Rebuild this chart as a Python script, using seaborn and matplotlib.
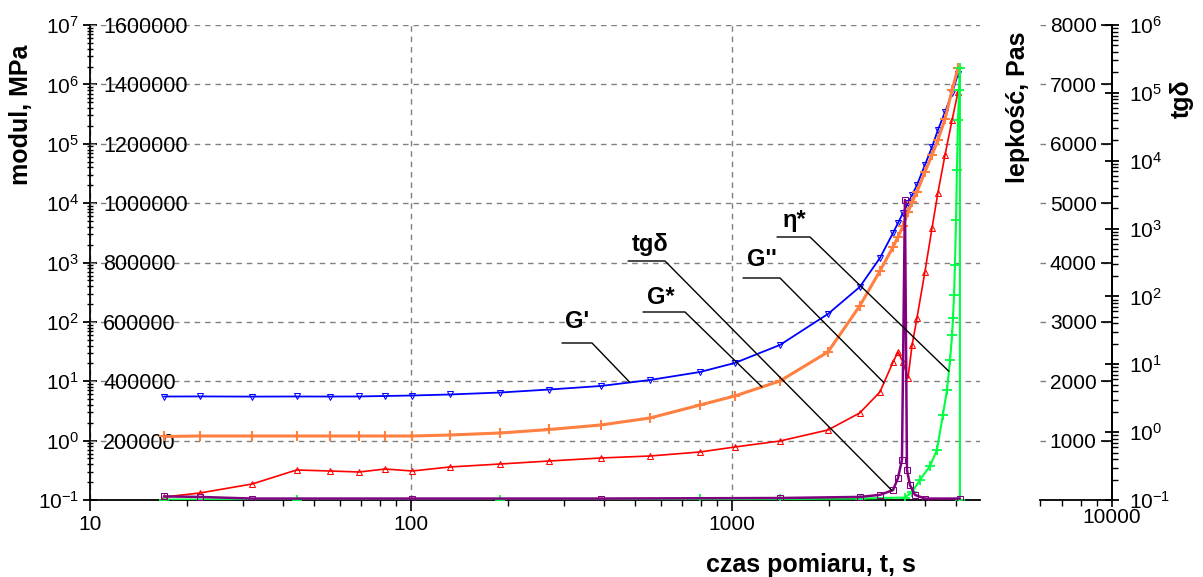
import matplotlib
matplotlib.use("Agg")
import matplotlib.pyplot as plt
from matplotlib import ticker
from matplotlib.lines import Line2D
from matplotlib.transforms import IdentityTransform
import numpy as np
import seaborn as sns

# --- dane pomiarowe -------------------------------------------------------
# czas pomiaru [s] dla modułów G', G*, G''
czas = [17, 22, 32, 44, 56, 69, 83, 101, 132, 190,
        270, 390, 555, 795, 1020, 1410, 1990, 2500, 2890, 3175,
        3290, 3410, 3535, 3640, 3770, 3990, 4200, 4380, 4610, 4850,
        5060]
g_prim = [348600, 348900, 348300, 348700, 348500, 348800, 350300, 352000, 355400, 362100,
          372200, 384000, 404200, 431200, 461500, 522100, 626500, 717500, 815200, 899400,
          933000, 966700, 1000400, 1027400, 1061000, 1128400, 1189000, 1246300, 1307000, 1371000,
          1435000]
g_star = [213900, 215600, 215600, 215600, 215600, 215600, 215600, 215600, 218900, 225700,
          237500, 252600, 276200, 320000, 350300, 400800, 498500, 653500, 771400, 852200,
          885900, 922900, 970100, 1003800, 1037500, 1104800, 1162100, 1212600, 1283400, 1381000,
          1455100]
g_bis = [10100, 23600, 53900, 101100, 97700, 94300, 104400, 97700, 111200, 121300,
         131400, 141500, 148200, 161700, 178500, 198700, 235800, 293100, 363800, 464800,
         498500, 464800, 410900, 522100, 613000, 768000, 916200, 1034100, 1162100, 1280000,
         1374300]

# lepkość zespolona eta* [Pas]
czas_eta = [17, 44, 190, 795, 1410, 2500, 3460, 3640, 3850, 4140, 4350, 4540,
            4675, 4780, 4850, 4880, 4920, 4950, 4990, 5020, 5060, 5100, 5130, 5130]
eta = [8, 8, 8, 12, 17, 25, 42, 135, 337, 573, 842, 1432,
       1853, 2358, 2779, 3065, 3453, 3958, 4716, 5558, 6400, 6905, 7276, 0]

# tangens kąta stratności
czas_tg = [17, 22, 32, 101, 390, 1410, 2500, 2890, 3175, 3290, 3385, 3458,
           3509, 3585, 3717, 3990, 5130]
tg_delta = [0.113, 0.111, 0.105, 0.105, 0.105, 0.107, 0.111, 0.119, 0.140, 0.211, 0.389, 2636,
            0.277, 0.166, 0.119, 0.105, 0.105]

# podziałki osi
czas_ticks = [10, 100, 1000]
modul_ticks = [200000, 400000, 600000, 800000, 1000000, 1200000, 1400000, 1600000]
lepkosc_ticks = [1000, 2000, 3000, 4000, 5000, 6000, 7000, 8000]

# --- wygląd ---------------------------------------------------------------
sns.set_theme(style="ticks")
plt.rcParams["font.family"] = ["Liberation Sans", "DejaVu Sans"]
plt.rcParams["mathtext.fontset"] = "custom"
plt.rcParams["mathtext.rm"] = "Liberation Sans"
plt.rcParams["mathtext.it"] = "Liberation Sans:italic"
plt.rcParams["mathtext.bf"] = "Liberation Sans:bold"
plt.rcParams["axes.unicode_minus"] = False
for k in ("text.color", "axes.labelcolor", "xtick.color", "ytick.color", "axes.edgecolor"):
    plt.rcParams[k] = "black"

W, H = 1203, 577
fig = plt.figure(figsize=(W / 100, H / 100), dpi=100)


def frame(x0, x1, y0, y1):
    return [x0 / W, 1 - y1 / H, (x1 - x0) / W, (y1 - y0) / H]


GRID = dict(color="#808080", linestyle=(0, (4, 3.5)), linewidth=1.0)
TICK_FS = 15
LAB_FS = 18
SUBS = np.arange(2, 10)

# --- główny panel: oś logarytmiczna modułu ---------------------------------
ax_log = fig.add_axes(frame(90, 980, 25, 500))
ax_log.set_xscale("log")
ax_log.set_yscale("log")
ax_log.set_xlim(10, 5925)
ax_log.set_ylim(0.1, 1e7)
for s in ("top", "right"):
    ax_log.spines[s].set_visible(False)
for s in ("left", "bottom"):
    ax_log.spines[s].set_linewidth(1.3)
ax_log.set_xticks(czas_ticks, labels=[str(v) for v in czas_ticks])
ax_log.xaxis.set_minor_locator(ticker.LogLocator(base=10, subs=SUBS))
ax_log.xaxis.set_minor_formatter(ticker.NullFormatter())
ax_log.yaxis.set_major_locator(ticker.LogLocator(base=10, numticks=20))
ax_log.yaxis.set_major_formatter(ticker.LogFormatterSciNotation())
ax_log.yaxis.set_minor_locator(ticker.LogLocator(base=10, subs=SUBS, numticks=20))
ax_log.yaxis.set_minor_formatter(ticker.NullFormatter())
ax_log.tick_params(axis="x", which="major", bottom=True, direction="out", length=8,
                   width=1.2, pad=3, labelsize=TICK_FS)
ax_log.tick_params(axis="x", which="minor", bottom=True, direction="out", length=4, width=1)
ax_log.tick_params(axis="y", which="major", left=True, direction="inout", length=10,
                   width=1.3, pad=3, labelsize=TICK_FS)
ax_log.tick_params(axis="y", which="minor", left=True, direction="inout", length=5, width=1)
ax_log.grid(True, axis="x", which="major", **GRID)

# liniowa oś modułu, opisy wewnątrz wykresu
ax_lin = ax_log.twinx()
ax_lin.set_ylim(0, 1.6e6)
ax_lin.yaxis.tick_left()
ax_lin.set_yticks(modul_ticks, labels=[str(v) for v in modul_ticks])
ax_lin.tick_params(axis="y", left=True, right=False, labelleft=True, labelright=False,
                   direction="in", length=0, pad=-9.5, labelsize=TICK_FS + 0.5)
for lab in ax_lin.get_yticklabels():
    lab.set_horizontalalignment("left")
for s in ax_lin.spines.values():
    s.set_visible(False)
ax_lin.grid(True, axis="y", **GRID)

ax_eta = ax_log.twinx()
ax_eta.set_ylim(0, 8000)
ax_eta.set_axis_off()

ax_tg = ax_log.twinx()
ax_tg.set_yscale("log")
ax_tg.set_ylim(0.1, 1e6)
ax_tg.set_axis_off()

# --- serie ----------------------------------------------------------------
common = dict(estimator=None, sort=False, legend=False)
sns.lineplot(x=czas, y=g_prim, ax=ax_lin, color="#0000ff", linewidth=1.3, marker="v",
             markersize=4, markerfacecolor="none", markeredgecolor="#0000ff", **common)
sns.lineplot(x=czas, y=g_star, ax=ax_lin, color="#ff8040", linewidth=2.2, marker="+",
             markersize=7, markeredgewidth=1.5, markeredgecolor="#ff8040", **common)
sns.lineplot(x=czas, y=g_bis, ax=ax_lin, color="#ff0000", linewidth=1.2, marker="^",
             markersize=5, markerfacecolor="none", markeredgecolor="#ff0000", **common)
sns.lineplot(x=czas_eta, y=eta, ax=ax_eta, color="#00ff40", linewidth=1.5, marker="+",
             markersize=7, markeredgewidth=1.3, markeredgecolor="#00ff40", **common)
sns.lineplot(x=czas_tg, y=tg_delta, ax=ax_tg, color="#800080", linewidth=1.8, marker="s",
             markersize=4, markerfacecolor="none", markeredgecolor="#800080", **common)
ax_lin.set_xlabel("")
ax_lin.set_ylabel("")
ax_lin.set_ylim(0, 1.6e6)
ax_eta.set_ylim(0, 8000)
ax_tg.set_ylim(0.1, 1e6)
ax_log.set_xlim(10, 5925)

# --- prawy panel: lepkość i tg delta ----------------------------------------
ax_r = fig.add_axes(frame(1040, 1112, 25, 500))
ax_r2 = ax_r.twinx()
ax_r.set_xscale("log")
ax_r.set_xlim(6000, 10000)
ax_r.set_ylim(0, 8000)
for s in ("top", "left"):
    ax_r.spines[s].set_visible(False)
for s in ("right", "bottom"):
    ax_r.spines[s].set_linewidth(1.3)
ax_r.set_xticks([10000], labels=["10000"])
ax_r.xaxis.set_minor_locator(ticker.LogLocator(base=10, subs=SUBS))
ax_r.xaxis.set_minor_formatter(ticker.NullFormatter())
ax_r.tick_params(axis="x", which="major", bottom=True, direction="inout", length=10,
                 width=1.2, pad=1, labelsize=TICK_FS)
ax_r.tick_params(axis="x", which="minor", bottom=True, direction="out", length=4, width=1)
ax_r.yaxis.tick_right()
ax_r.set_yticks(lepkosc_ticks, labels=[str(v) for v in lepkosc_ticks])
ax_r.tick_params(axis="y", right=True, left=False, labelright=True, labelleft=False,
                 direction="in", length=8, width=1.2, pad=-11, labelsize=TICK_FS)
for lab in ax_r.get_yticklabels():
    lab.set_horizontalalignment("right")
    lab.set_bbox(dict(facecolor="white", edgecolor="none", pad=1))
ax_r.grid(True, axis="y", **GRID)

ax_r2.set_yscale("log")
ax_r2.set_ylim(0.1, 1e6)
for s in ("top", "left", "bottom"):
    ax_r2.spines[s].set_visible(False)
ax_r2.spines["right"].set_linewidth(1.3)
ax_r2.yaxis.set_major_locator(ticker.LogLocator(base=10, numticks=20))
ax_r2.yaxis.set_major_formatter(ticker.LogFormatterSciNotation())
ax_r2.yaxis.set_minor_locator(ticker.LogLocator(base=10, subs=SUBS, numticks=20))
ax_r2.yaxis.set_minor_formatter(ticker.NullFormatter())
ax_r2.tick_params(axis="y", which="major", right=True, direction="inout", length=10,
                  width=1.3, pad=7, labelsize=TICK_FS)
ax_r2.tick_params(axis="y", which="minor", right=True, direction="out", length=4, width=1)

# --- opisy osi ----------------------------------------------------------------
def fig_text(x, y, s, **kw):
    fig.text(x / W, 1 - y / H, s, fontweight="bold", **kw)


fig_text(21, 115, "modul, MPa", rotation=90, ha="center", va="center", fontsize=LAB_FS)
fig_text(1018, 107, "lepkość, Pas", rotation=90, ha="center", va="center", fontsize=LAB_FS)
fig_text(1182, 99, "tgδ", rotation=90, ha="center", va="center", fontsize=LAB_FS)
fig_text(811, 565, "czas pomiaru, t, s", ha="center", va="center", fontsize=LAB_FS)


# --- opisy serii z liniami odniesienia ------------------------------------------
def opis(ax, tekst, xs, ys, t_end, txt_xy, podkr, log_y=False):
    lx = np.log10(xs)
    if log_y:
        v = 10 ** np.interp(np.log10(t_end), lx, np.log10(ys))
    else:
        v = np.interp(np.log10(t_end), lx, ys)
    ex, ey = ax.transData.transform((t_end, v))
    x0, x1, yu = podkr
    fig.add_artist(Line2D([x0, x1, ex], [H - yu, H - yu, ey], transform=IdentityTransform(),
                          color="black", linewidth=1.0))
    fig_text(txt_xy[0], txt_xy[1], tekst, ha="left", va="center", fontsize=17)


opis(ax_lin, "G'", czas, g_prim, 481, (565, 322), (562, 592, 343))
opis(ax_lin, "G*", czas, g_star, 1240, (647, 298), (643, 685, 312))
opis(ax_tg, "tgδ", czas_tg, tg_delta, 3150, (632, 244), (628, 665, 261), log_y=True)
opis(ax_lin, "G''", czas, g_bis, 2975, (747, 260), (743, 780, 278))
opis(ax_eta, "η*", czas_eta[:-1], eta[:-1], 4740, (783, 220), (777, 810, 237))

fig.savefig("out.png", dpi=100)
